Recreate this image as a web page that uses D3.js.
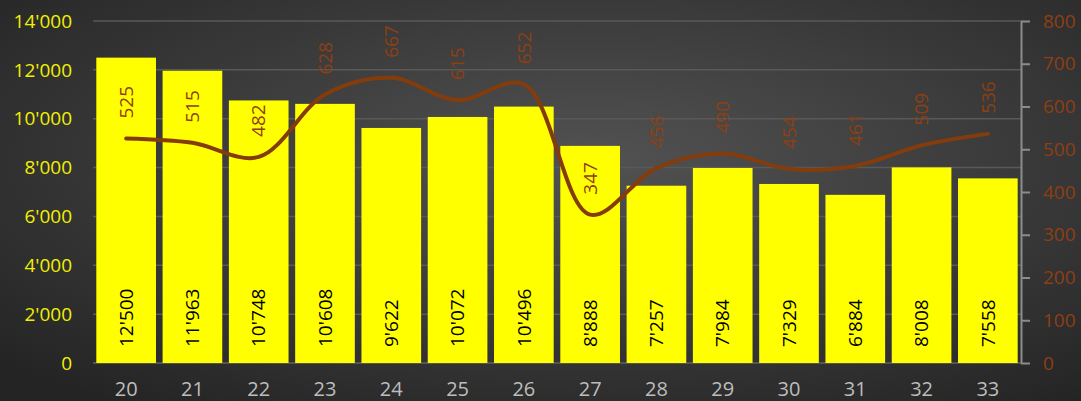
<!DOCTYPE html>
<html>
<head>
<meta charset="utf-8">
<script src="https://cdn.jsdelivr.net/npm/d3@7"></script>
<style>
  html, body { margin: 0; padding: 0; background: #333; }
  svg { display: block; font-family: "Open Sans", sans-serif; }
</style>
</head>
<body>
<div id="chart"></div>
<script>
// week numbers, counts (bars, left axis) and second series (line, right axis)
const weeks = ["20", "21", "22", "23", "24", "25", "26", "27", "28", "29", "30", "31", "32", "33"];
const barValues = [12500, 11963, 10748, 10608, 9622, 10072, 10496, 8888, 7257, 7984, 7329, 6884, 8008, 7558];
const lineValues = [525, 515, 482, 628, 667, 615, 652, 347, 456, 490, 454, 461, 509, 536];
const leftTicks = [0, 2000, 4000, 6000, 8000, 10000, 12000, 14000];
const rightTicks = [0, 100, 200, 300, 400, 500, 600, 700, 800];

const w = 1081;
const h = 401;
const plot_left = 93, plot_right = 1021, plot_top = 21, plot_bottom = 363;

const fmt = d3.formatLocale({decimal: ".", thousands: "'", grouping: [3], currency: ["", ""]}).format(",d");

const svg = d3.select("#chart").append("svg")
  .attr("width", w)
  .attr("height", h);

// background
const grad = svg.append("defs").append("radialGradient")
  .attr("id", "bg")
  .attr("cx", "55%").attr("cy", "40%").attr("r", "75%");
grad.append("stop").attr("offset", "0%").attr("stop-color", "#525252");
grad.append("stop").attr("offset", "100%").attr("stop-color", "#242424");
svg.append("rect").attr("width", w).attr("height", h).attr("fill", "url(#bg)");

const x = d3.scaleBand().domain(weeks).range([plot_left, plot_right]).paddingInner(0.1).paddingOuter(0.05);
const yL = d3.scaleLinear().domain([0, 14000]).range([plot_bottom, plot_top]);
const yR = d3.scaleLinear().domain([0, 800]).range([plot_bottom, plot_top]);

// grid lines
svg.append("g")
  .selectAll("line")
  .data(leftTicks)
  .enter()
  .append("line")
  .attr("x1", plot_left)
  .attr("x2", plot_right)
  .attr("y1", d => yL(d))
  .attr("y2", d => yL(d))
  .attr("stroke", d => d === 0 ? "#606060" : "#595959")
  .attr("stroke-width", 1.5);

// left axis labels
svg.append("g")
  .selectAll("text")
  .data(leftTicks)
  .enter()
  .append("text")
  .attr("x", 72)
  .attr("y", d => yL(d))
  .attr("dy", "0.35em")
  .attr("text-anchor", "end")
  .attr("fill", "#f0f000")
  .attr("font-size", 19)
  .text(d => fmt(d));

// right axis
const axisR = svg.append("g")
  .attr("transform", `translate(${plot_right},0)`)
  .call(d3.axisRight(yR).tickValues(rightTicks).tickSize(9).tickPadding(13).tickSizeOuter(0));
axisR.select(".domain").attr("stroke", "#8c8c8c").attr("stroke-width", 2);
axisR.selectAll(".tick line").attr("stroke", "#8c8c8c").attr("stroke-width", 2);
axisR.selectAll(".tick text")
  .attr("fill", "#8e3f12")
  .attr("font-size", 19)
  .attr("font-family", "Open Sans, sans-serif");

// bars
svg.append("g")
  .selectAll("rect")
  .data(barValues)
  .enter()
  .append("rect")
  .attr("x", (d, i) => x(weeks[i]))
  .attr("y", d => yL(d))
  .attr("width", x.bandwidth())
  .attr("height", d => yL(0) - yL(d))
  .attr("fill", "#ffff00");

// bar labels
svg.append("g")
  .selectAll("text")
  .data(barValues)
  .enter()
  .append("text")
  .attr("transform", (d, i) => `translate(${x(weeks[i]) + x.bandwidth() / 2},${plot_bottom - 16}) rotate(-90)`)
  .attr("dy", "0.35em")
  .attr("fill", "#000")
  .attr("font-size", 19)
  .text(d => fmt(d));

// x labels
svg.append("g")
  .selectAll("text")
  .data(weeks)
  .enter()
  .append("text")
  .attr("x", d => x(d) + x.bandwidth() / 2)
  .attr("y", 396)
  .attr("text-anchor", "middle")
  .attr("fill", "#bdbdbd")
  .attr("font-size", 20)
  .text(d => d);

// smoothed line
const line = d3.line()
  .x((d, i) => x(weeks[i]) + x.bandwidth() / 2)
  .y(d => yR(d))
  .curve(d3.curveCatmullRom.alpha(0.5));

svg.append("path")
  .datum(lineValues)
  .attr("d", line)
  .attr("fill", "none")
  .attr("stroke", "#843c0c")
  .attr("stroke-width", 4)
  .attr("stroke-linecap", "round");

// line labels
svg.append("g")
  .selectAll("text")
  .data(lineValues)
  .enter()
  .append("text")
  .attr("transform", (d, i) => `translate(${x(weeks[i]) + x.bandwidth() / 2},${yR(d) - 20}) rotate(-90)`)
  .attr("dy", "0.35em")
  .attr("fill", "#8e3f12")
  .attr("font-size", 19)
  .text(d => d);
</script>
</body>
</html>
